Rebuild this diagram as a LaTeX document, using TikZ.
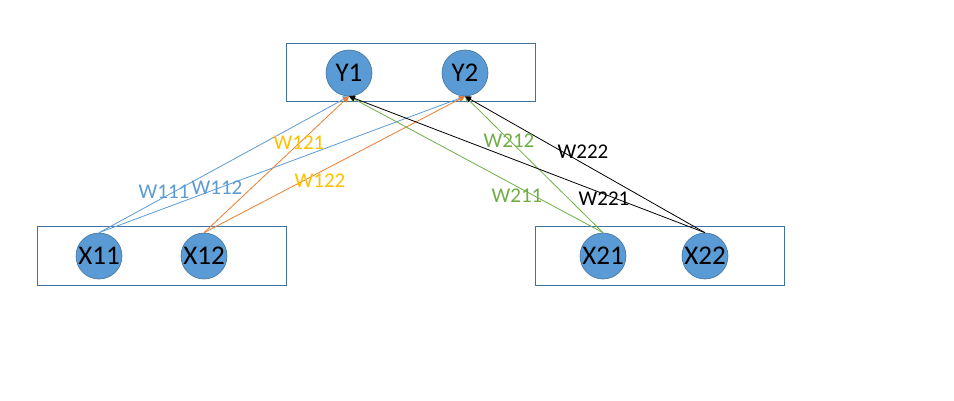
\documentclass[tikz,border=0pt]{standalone}
\usepackage{fontspec}
\setmainfont{Carlito}
\usetikzlibrary{arrows.meta}
\definecolor{cblue}{HTML}{5B9BD5}
\definecolor{cborder}{HTML}{41719C}
\definecolor{corange}{HTML}{ED7D31}
\definecolor{cgold}{HTML}{FFC000}
\definecolor{cgreen}{HTML}{70AD47}
\begin{document}
\begin{tikzpicture}[x=1pt,y=-1pt,
  grp/.style={draw=cborder,line width=0.8pt,fill=white},
  unit/.style={circle,draw=cborder,line width=0.6pt,fill=cblue,minimum size=46pt,inner sep=0pt,font=\fontsize{27}{27}\selectfont},
  wire/.style={line width=0.8pt,-{Triangle[length=6pt,width=6pt]}},
  wlab/.style={font=\fontsize{21}{21}\selectfont,inner sep=0pt}]
\useasboundingbox (0,0) rectangle (954,400);
\draw[grp] (286,43) rectangle (535,101);
\draw[grp] (37,226) rectangle (286,285);
\draw[grp] (535,226) rectangle (784,285);
\node[unit] (y1) at (349,73) {Y1};
\node[unit] (y2) at (465,73) {Y2};
\node[unit] (x11) at (99,256) {X11};
\node[unit] (x12) at (204,256) {X12};
\node[unit] (x21) at (603,256) {X21};
\node[unit] (x22) at (705,256) {X22};
\draw[wire,draw=cblue] (x11.north) -- (y1.south);
\draw[wire,draw=cblue] (x11.north) -- (y2.south);
\draw[wire,draw=corange] (x12.north) -- (y1.south);
\draw[wire,draw=corange] (x12.north) -- (y2.south);
\draw[wire,draw=cgreen] (x21.north) -- (y1.south);
\draw[wire,draw=cgreen] (x21.north) -- (y2.south);
\draw[wire,draw=black] (x22.north) -- (y1.south);
\draw[wire,draw=black] (x22.north) -- (y2.south);
\node[wlab,text=cblue] (w111) at (164,192) {W111};
\node[wlab,text=cblue] (w112) at (217,188) {W112};
\node[wlab,text=cgold] (w121) at (299,143) {W121};
\node[wlab,text=cgold] (w122) at (320,181) {W122};
\node[wlab,text=cgreen] (w212) at (509,141) {W212};
\node[wlab,text=black] (w222) at (583,152) {W222};
\node[wlab,text=cgreen] (w211) at (517,196) {W211};
\node[wlab,text=black] (w221) at (604,199) {W221};
\end{tikzpicture}
\end{document}
